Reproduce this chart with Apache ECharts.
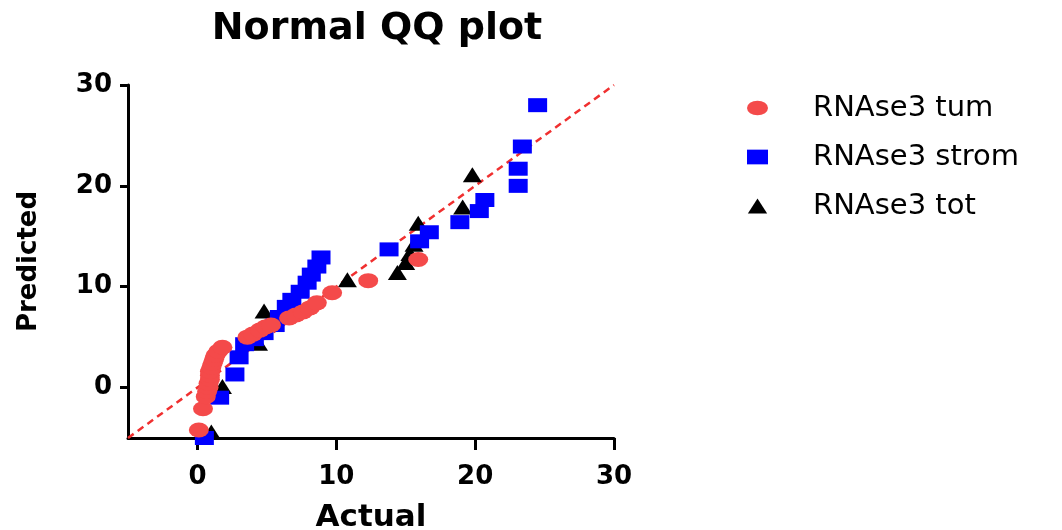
<!DOCTYPE html>
<html>
<head>
<meta charset="utf-8">
<script src="https://cdn.jsdelivr.net/npm/echarts@6/dist/echarts.min.js"></script>
<style>html,body{margin:0;padding:0;background:#fff}#c{width:1062px;height:530px}</style>
</head>
<body>
<div id="c"></div>
<script>
const seriesNames = ['RNAse3 tum', 'RNAse3 strom', 'RNAse3 tot'];
const tickValues = [0, 10, 20, 30];
const tum = [[0.1,-4.2],[0.4,-2.1],[0.6,-0.9],[0.7,-0.4],[0.8,0.0],[0.8,0.4],[0.9,0.8],[0.9,1.2],[0.9,1.6],[1.0,2.0],[1.1,2.4],[1.2,2.8],[1.3,3.2],[1.5,3.6],[1.8,4.0],[3.6,5.0],[4.0,5.3],[4.5,5.7],[4.9,6.0],[5.3,6.2],[6.6,6.9],[7.1,7.2],[7.6,7.5],[8.1,7.9],[8.6,8.4],[9.7,9.4],[12.3,10.6],[15.9,12.7]];
const strom = [[0.5,-5.0],[1.6,-1.0],[2.7,1.3],[3.0,3.0],[3.4,4.3],[4.1,4.8],[4.8,5.4],[5.6,6.2],[5.9,7.0],[6.4,8.0],[6.8,8.7],[7.4,9.5],[7.9,10.4],[8.2,11.2],[8.6,12.0],[8.9,12.9],[13.8,13.7],[16.0,14.5],[16.7,15.4],[18.9,16.4],[20.3,17.5],[20.7,18.6],[23.1,20.0],[23.1,21.7],[23.4,23.9],[24.5,28.0]];
const tot = [[1.0,-4.4],[1.8,0.1],[4.4,4.4],[4.8,7.6],[10.8,10.7],[14.4,11.4],[15.0,12.4],[15.3,13.3],[15.6,14.2],[15.9,16.3],[19.1,17.9],[19.8,21.1]];
const identityLine = [[-5,-5],[30,30]];

const chart = echarts.init(document.getElementById('c'));
const axisCommon = {
  type: 'value', min: -5, max: 30, interval: 5,
  splitLine: {show: false},
  axisLine: {show: true, onZero: false, lineStyle: {color: '#000', width: 3}},
  axisTick: {show: true, customValues: tickValues, lineStyle: {color: '#000', width: 3}},
  axisLabel: {customValues: tickValues, color: '#000', fontFamily: 'DejaVu Sans', fontWeight: 'bold', fontSize: 26},
  nameLocation: 'middle',
  nameTextStyle: {color: '#000', fontFamily: 'DejaVu Sans', fontWeight: 'bold', fontSize: 31}
};
chart.setOption({
  animation: false,
  backgroundColor: '#fff',
  title: {
    text: 'Normal QQ plot', left: 372, top: 5, textAlign: 'center',
    textStyle: {fontFamily: 'DejaVu Sans', fontWeight: 'bold', fontSize: 38, color: '#000'}
  },
  legend: {
    orient: 'vertical', left: 742, top: 88,
    data: [
      {name: seriesNames[0], icon: 'path://M0,7A10,7 0 1,0 20,7A10,7 0 1,0 0,7Z'},
      {name: seriesNames[1], icon: 'path://M0,0H20V14H0Z'},
      {name: seriesNames[2], icon: 'path://M9,0L18,14H0Z'}
    ],
    itemWidth: 21, itemHeight: 15, itemGap: 19,
    textStyle: {fontFamily: 'DejaVu Sans', fontSize: 29, color: '#000', lineHeight: 30, padding: [0,0,0,40]}
  },
  grid: {left: 128, right: 448, top: 85, bottom: 92, containLabel: false, outerBoundsMode: 'none'},
  xAxis: Object.assign({}, axisCommon, {
    name: 'Actual', nameGap: 64,
    axisTick: Object.assign({}, axisCommon.axisTick, {length: 12}),
    axisLabel: Object.assign({}, axisCommon.axisLabel, {margin: 26})
  }),
  yAxis: Object.assign({}, axisCommon, {
    name: 'Predicted', nameGap: 86,
    nameTextStyle: Object.assign({}, axisCommon.nameTextStyle, {fontSize: 26}),
    axisTick: Object.assign({}, axisCommon.axisTick, {length: 8}),
    axisLabel: Object.assign({}, axisCommon.axisLabel, {margin: 16})
  }),
  series: [
    {type: 'line', data: identityLine, symbol: 'none', silent: true, z: 1,
     lineStyle: {color: '#f03030', width: 2.5, type: [7, 5]}},
    {name: 'RNAse3 tot', type: 'scatter', data: tot, symbol: 'triangle', symbolSize: [19, 15], z: 2,
     itemStyle: {color: '#000', opacity: 1}},
    {name: 'RNAse3 strom', type: 'scatter', data: strom, symbol: 'rect', symbolSize: [19, 14], z: 3,
     itemStyle: {color: '#0000ff', opacity: 1}},
    {name: 'RNAse3 tum', type: 'scatter', data: tum, symbol: 'circle', symbolSize: [20, 15], z: 4,
     itemStyle: {color: '#f44a4a', opacity: 1}}
  ]
});
</script>
</body>
</html>
